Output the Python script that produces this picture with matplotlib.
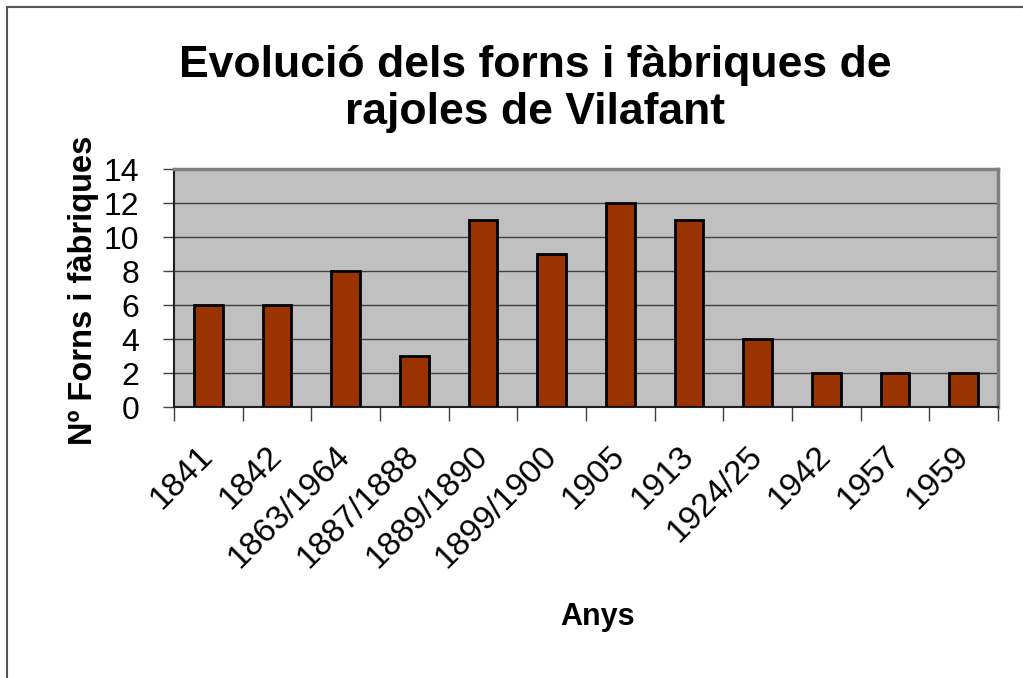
import numpy as np
import matplotlib.pyplot as plt
from matplotlib.patches import Rectangle

# Data
years = ['1841', '1842', '1863/1964', '1887/1888', '1889/1890', '1899/1900',
         '1905', '1913', '1924/25', '1942', '1957', '1959']
counts = [6, 6, 8, 3, 11, 9, 12, 11, 4, 2, 2, 2]

plt.rcParams['font.family'] = ['Liberation Sans', 'DejaVu Sans']

fig = plt.figure(figsize=(10.23, 6.78), dpi=100)
ax = fig.add_axes([0.170, 0.3997, 0.8056, 0.351])

x = np.arange(len(years))
ax.set_facecolor('#c0c0c0')
ax.bar(x, counts, width=0.42, color='#993300', edgecolor='black', linewidth=2, zorder=3)

ax.set_xlim(-0.5, len(years) - 0.5)
ax.set_ylim(0, 14)
ax.set_yticks(np.arange(0, 15, 2))
ax.yaxis.grid(True, color='#404040', linewidth=1, zorder=1)
ax.set_axisbelow(True)

ax.set_xticks(x)
ax.set_xticklabels(years, rotation=45, ha='right', va='center', rotation_mode='anchor', fontsize=24)
ax.tick_params(axis='x', which='major', length=0, pad=32)
ax.set_xticks(np.arange(-0.5, len(years), 1), minor=True)
ax.tick_params(axis='x', which='minor', length=10, width=1, color='#404040')
ax.tick_params(axis='y', labelsize=23, length=8, width=1, color='#404040', pad=17)

for side in ['top', 'right']:
    ax.spines[side].set_color('#808080')
    ax.spines[side].set_linewidth(2.5)
for side in ['left', 'bottom']:
    ax.spines[side].set_color('#202020')
    ax.spines[side].set_linewidth(1.5)

fig.text(84 / 1023, 1 - 290 / 678, 'Nº Forns i fàbriques', fontsize=23.5, fontweight='bold',
         rotation=90, ha='center', va='center')
fig.text(0.584, 0.09, 'Anys', fontsize=22, fontweight='bold', ha='center', va='center')

fig.text(0.523, 1 - 89 / 678, 'Evolució dels forns i fàbriques de\nrajoles de Vilafant',
         fontsize=32, fontweight='bold', ha='center', va='center', linespacing=1.17)

# outer frame (only left and top edges visible)
fig.patches.append(Rectangle((7 / 1023, -0.1), 1.2, 1 - 7 / 678 + 0.1, transform=fig.transFigure,
                             fill=False, edgecolor='#555555', linewidth=1.5))

fig.savefig('out.png', dpi=100)
